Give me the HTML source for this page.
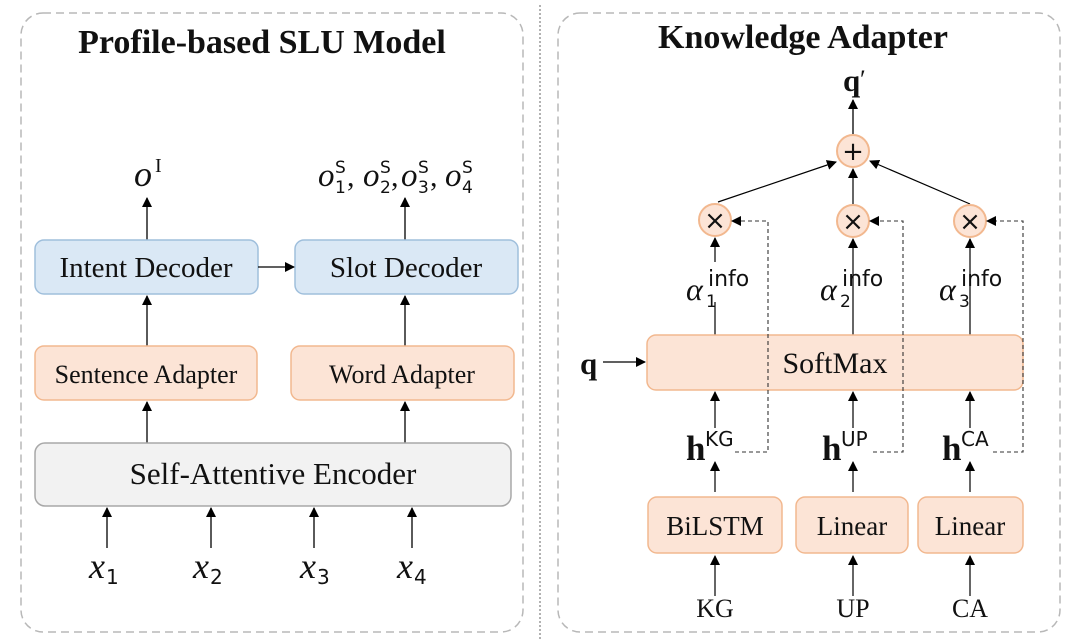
<!DOCTYPE html>
<html><head><meta charset="utf-8"><style>
html,body{margin:0;padding:0;background:#fff;}
svg{display:block;}
.t{font-family:"Liberation Serif",serif;fill:#111;}
.m{font-family:"Liberation Serif",serif;font-style:italic;fill:#111;}
.s{font-family:"DejaVu Sans","Liberation Sans",sans-serif;fill:#111;}
</style></head><body>
<svg width="1080" height="643" viewBox="0 0 1080 643" xmlns="http://www.w3.org/2000/svg">
<defs>
<marker id="a" markerWidth="10" markerHeight="10" refX="9" refY="5" orient="auto" markerUnits="userSpaceOnUse">
<path d="M0,0 L10,5 L0,10 z" fill="#000"/></marker>
</defs>
<rect x="21" y="13" width="502" height="619" rx="22" fill="none" stroke="#b8b8b8" stroke-width="1.5" stroke-dasharray="8,5"/>
<rect x="558" y="13" width="502" height="619" rx="22" fill="none" stroke="#b8b8b8" stroke-width="1.5" stroke-dasharray="8,5"/>
<line x1="540" y1="5" x2="540" y2="640" stroke="#666" stroke-width="1" stroke-dasharray="2,2"/>

<text class="t" x="262" y="53" font-size="34" font-weight="bold" text-anchor="middle">Profile-based SLU Model</text>
<text class="t" x="803" y="48" font-size="34" font-weight="bold" text-anchor="middle">Knowledge Adapter</text>

<!-- Left -->
<text class="m" x="134" y="186" font-size="36">o</text><text class="t" x="155" y="172" font-size="20">I</text>
<text class="m" x="318" y="186" font-size="33">o</text><text class="s" x="335" y="193" font-size="17">1</text><text class="s" x="335" y="173" font-size="17">S</text>
<text class="t" x="347" y="186" font-size="30">,</text>
<text class="m" x="363" y="186" font-size="33">o</text><text class="s" x="380" y="193" font-size="17">2</text><text class="s" x="380" y="173" font-size="17">S</text>
<text class="t" x="391" y="186" font-size="30">,</text>
<text class="m" x="401" y="186" font-size="33">o</text><text class="s" x="418" y="193" font-size="17">3</text><text class="s" x="418" y="173" font-size="17">S</text>
<text class="t" x="430" y="186" font-size="30">,</text>
<text class="m" x="445" y="186" font-size="33">o</text><text class="s" x="462" y="193" font-size="17">4</text><text class="s" x="462" y="173" font-size="17">S</text>

<line x1="147" y1="240" x2="147" y2="198" stroke="#000" stroke-width="1.3" marker-end="url(#a)"/>
<line x1="405" y1="240" x2="405" y2="198" stroke="#000" stroke-width="1.3" marker-end="url(#a)"/>

<rect x="35" y="240" width="223" height="54" rx="9" fill="#dae8f5" stroke="#9fbfdc" stroke-width="1.5"/>
<text class="t" x="146" y="277" font-size="29" text-anchor="middle">Intent Decoder</text>
<rect x="295" y="240" width="223" height="54" rx="9" fill="#dae8f5" stroke="#9fbfdc" stroke-width="1.5"/>
<text class="t" x="406" y="277" font-size="29" text-anchor="middle">Slot Decoder</text>
<line x1="258" y1="267" x2="294" y2="267" stroke="#000" stroke-width="1.3" marker-end="url(#a)"/>

<line x1="147" y1="346" x2="147" y2="296" stroke="#000" stroke-width="1.3" marker-end="url(#a)"/>
<line x1="405" y1="346" x2="405" y2="296" stroke="#000" stroke-width="1.3" marker-end="url(#a)"/>

<rect x="35" y="346" width="222" height="54" rx="9" fill="#fce4d6" stroke="#f2b88f" stroke-width="1.5"/>
<text class="t" x="146" y="383" font-size="26" text-anchor="middle">Sentence Adapter</text>
<rect x="291" y="346" width="223" height="54" rx="9" fill="#fce4d6" stroke="#f2b88f" stroke-width="1.5"/>
<text class="t" x="402" y="383" font-size="26" text-anchor="middle">Word Adapter</text>

<line x1="147" y1="443" x2="147" y2="402" stroke="#000" stroke-width="1.3" marker-end="url(#a)"/>
<line x1="405" y1="443" x2="405" y2="402" stroke="#000" stroke-width="1.3" marker-end="url(#a)"/>

<rect x="35" y="443" width="476" height="63" rx="10" fill="#f2f2f2" stroke="#a8a8a8" stroke-width="1.5"/>
<text class="t" x="273" y="484" font-size="31" text-anchor="middle">Self-Attentive Encoder</text>

<line x1="107" y1="548" x2="107" y2="508" stroke="#000" stroke-width="1.3" marker-end="url(#a)"/>
<line x1="211" y1="548" x2="211" y2="508" stroke="#000" stroke-width="1.3" marker-end="url(#a)"/>
<line x1="314" y1="548" x2="314" y2="508" stroke="#000" stroke-width="1.3" marker-end="url(#a)"/>
<line x1="412" y1="548" x2="412" y2="508" stroke="#000" stroke-width="1.3" marker-end="url(#a)"/>

<text class="m" x="89" y="578" font-size="36">x</text><text class="s" x="106" y="584" font-size="20">1</text>
<text class="m" x="193" y="578" font-size="36">x</text><text class="s" x="210" y="584" font-size="20">2</text>
<text class="m" x="300" y="578" font-size="36">x</text><text class="s" x="317" y="584" font-size="20">3</text>
<text class="m" x="397" y="578" font-size="36">x</text><text class="s" x="414" y="584" font-size="20">4</text>

<!-- Right -->
<text class="t" x="843" y="91" font-size="31" font-weight="bold">q</text><text class="t" x="860" y="88" font-size="26">′</text>
<line x1="853" y1="134" x2="853" y2="100" stroke="#000" stroke-width="1.3" marker-end="url(#a)"/>

<circle cx="853" cy="151" r="16" fill="#fce4d6" stroke="#f2b88f" stroke-width="2"/>
<text class="s" x="853" y="160" font-size="26" text-anchor="middle">+</text>

<line x1="718" y1="202" x2="836" y2="162" stroke="#000" stroke-width="1.2" marker-end="url(#a)"/>
<line x1="853" y1="204" x2="853" y2="169" stroke="#000" stroke-width="1.2" marker-end="url(#a)"/>
<line x1="970" y1="204" x2="870" y2="161" stroke="#000" stroke-width="1.2" marker-end="url(#a)"/>

<circle cx="715" cy="220" r="16" fill="#fce4d6" stroke="#f2b88f" stroke-width="2"/>
<text class="s" x="715" y="229" font-size="26" text-anchor="middle">×</text>
<circle cx="853" cy="221" r="16" fill="#fce4d6" stroke="#f2b88f" stroke-width="2"/>
<text class="s" x="853" y="230" font-size="26" text-anchor="middle">×</text>
<circle cx="970" cy="221" r="16" fill="#fce4d6" stroke="#f2b88f" stroke-width="2"/>
<text class="s" x="970" y="230" font-size="26" text-anchor="middle">×</text>

<line x1="715" y1="335" x2="715" y2="238" stroke="#000" stroke-width="1.2" marker-end="url(#a)"/>
<line x1="853" y1="335" x2="853" y2="239" stroke="#000" stroke-width="1.2" marker-end="url(#a)"/>
<line x1="970" y1="335" x2="970" y2="239" stroke="#000" stroke-width="1.2" marker-end="url(#a)"/>

<rect x="688" y="262" width="30" height="40" fill="#fff"/>
<rect x="820" y="262" width="30" height="40" fill="#fff"/>
<rect x="938" y="262" width="30" height="40" fill="#fff"/>
<text class="m" x="686" y="300" font-size="32">α</text><text class="s" x="706" y="307" font-size="17">1</text><text class="s" x="708" y="286" font-size="22">info</text>
<text class="m" x="820" y="300" font-size="32">α</text><text class="s" x="840" y="307" font-size="17">2</text><text class="s" x="842" y="286" font-size="22">info</text>
<text class="m" x="939" y="300" font-size="32">α</text><text class="s" x="959" y="307" font-size="17">3</text><text class="s" x="961" y="286" font-size="22">info</text>

<rect x="647" y="335" width="376" height="55" rx="9" fill="#fce4d6" stroke="#f2b88f" stroke-width="1.5"/>
<text class="t" x="835" y="373" font-size="30" text-anchor="middle">SoftMax</text>

<text class="t" x="580" y="374" font-size="31" font-weight="bold">q</text>
<line x1="603" y1="362" x2="645" y2="362" stroke="#000" stroke-width="1.3" marker-end="url(#a)"/>

<g stroke="#333" stroke-width="1.1" fill="none" stroke-dasharray="4,3">
<polyline points="735,452 768,452 768,221 733,221"/>
<polyline points="873,452 903,452 903,221 871,221"/>
<polyline points="993,452 1023,452 1023,221 988,221"/>
</g>
<path d="M731,221 l10,-5 l0,10 z" fill="#000"/>
<path d="M869,221 l10,-5 l0,10 z" fill="#000"/>
<path d="M986,221 l10,-5 l0,10 z" fill="#000"/>

<line x1="715" y1="428" x2="715" y2="392" stroke="#000" stroke-width="1.2" marker-end="url(#a)"/>
<line x1="853" y1="428" x2="853" y2="392" stroke="#000" stroke-width="1.2" marker-end="url(#a)"/>
<line x1="970" y1="428" x2="970" y2="392" stroke="#000" stroke-width="1.2" marker-end="url(#a)"/>

<text class="t" x="686" y="460" font-size="35" font-weight="bold">h</text><text class="s" x="705" y="446" font-size="20">KG</text>
<text class="t" x="822" y="460" font-size="35" font-weight="bold">h</text><text class="s" x="841" y="446" font-size="20">UP</text>
<text class="t" x="942" y="460" font-size="35" font-weight="bold">h</text><text class="s" x="961" y="446" font-size="20">CA</text>

<line x1="715" y1="492" x2="715" y2="462" stroke="#000" stroke-width="1.2" marker-end="url(#a)"/>
<line x1="853" y1="492" x2="853" y2="462" stroke="#000" stroke-width="1.2" marker-end="url(#a)"/>
<line x1="970" y1="492" x2="970" y2="462" stroke="#000" stroke-width="1.2" marker-end="url(#a)"/>

<rect x="648" y="497" width="134" height="56" rx="9" fill="#fce4d6" stroke="#f2b88f" stroke-width="1.5"/>
<text class="t" x="715" y="535" font-size="27" text-anchor="middle">BiLSTM</text>
<rect x="796" y="497" width="112" height="56" rx="9" fill="#fce4d6" stroke="#f2b88f" stroke-width="1.5"/>
<text class="t" x="852" y="535" font-size="27" text-anchor="middle">Linear</text>
<rect x="918" y="497" width="105" height="56" rx="9" fill="#fce4d6" stroke="#f2b88f" stroke-width="1.5"/>
<text class="t" x="970" y="535" font-size="27" text-anchor="middle">Linear</text>

<line x1="715" y1="596" x2="715" y2="556" stroke="#000" stroke-width="1.2" marker-end="url(#a)"/>
<line x1="853" y1="596" x2="853" y2="556" stroke="#000" stroke-width="1.2" marker-end="url(#a)"/>
<line x1="970" y1="596" x2="970" y2="556" stroke="#000" stroke-width="1.2" marker-end="url(#a)"/>

<text class="t" x="715" y="617" font-size="26" text-anchor="middle">KG</text>
<text class="t" x="853" y="617" font-size="26" text-anchor="middle">UP</text>
<text class="t" x="970" y="617" font-size="26" text-anchor="middle">CA</text>
</svg>
</body></html>
